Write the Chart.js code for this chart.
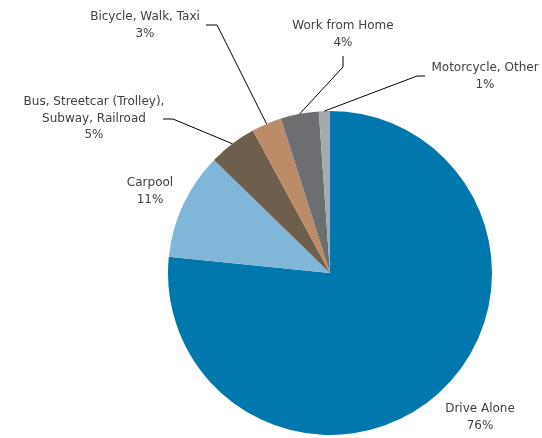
<!DOCTYPE html>
<html>
<head>
<meta charset="utf-8">
<script src="https://cdn.jsdelivr.net/npm/chart.js@4"></script>
<style>
  html, body { margin: 0; padding: 0; background: #fff; }
  #wrap { width: 542px; height: 438px; }
</style>
</head>
<body>
<div id="wrap"><canvas id="modeChart" width="542" height="438"></canvas></div>
<script>
// commute mode share (slice sizes, labels are the printed %)
const modes = ['Drive Alone', 'Carpool', 'Bus, Streetcar (Trolley), Subway, Railroad', 'Bicycle, Walk, Taxi', 'Work from Home', 'Motorcycle, Other'];
const shares = [76.6, 10.7, 4.8, 3.0, 3.8, 1.1];
const shareLabels = ['76%', '11%', '5%', '3%', '4%', '1%'];
const sliceColors = ['#0077ad', '#80b6d8', '#6e5e4c', '#bc8b67', '#6d6e71', '#a7a9ac'];

// where each label sits, and the knee of its leader line (null = no line)
const labelLayout = [
  { x: 480, y: 409, lines: ['Drive Alone'], leader: null },
  { x: 150, y: 183, lines: ['Carpool'], leader: null },
  { x: 94, y: 102, lines: ['Bus, Streetcar (Trolley),', 'Subway, Railroad'], leader: [[163, 119], [173, 119]] },
  { x: 145, y: 17, lines: ['Bicycle, Walk, Taxi'], leader: [[206, 25], [217, 25]] },
  { x: 343, y: 26, lines: ['Work from Home'], leader: [[343, 56], [343, 67]] },
  { x: 485, y: 68, lines: ['Motorcycle, Other'], leader: [[425, 76], [417, 76]] }
];

const outsideLabels = {
  id: 'outsideLabels',
  afterDatasetsDraw(chart) {
    const c = chart.ctx;
    const arcs = chart.getDatasetMeta(0).data;
    c.save();
    // leader lines
    c.strokeStyle = '#000';
    c.lineWidth = 1;
    arcs.forEach((arc, i) => {
      const lay = labelLayout[i];
      if (!lay.leader) return;
      const p = arc.getProps(['x', 'y', 'startAngle', 'endAngle', 'outerRadius'], true);
      const mid = (p.startAngle + p.endAngle) / 2;
      const ex = p.x + Math.cos(mid) * p.outerRadius;
      const ey = p.y + Math.sin(mid) * p.outerRadius;
      c.beginPath();
      c.moveTo(lay.leader[0][0], lay.leader[0][1]);
      c.lineTo(lay.leader[1][0], lay.leader[1][1]);
      c.lineTo(ex, ey);
      c.stroke();
    });
    // text
    c.fillStyle = '#404040';
    c.font = '12px "DejaVu Sans"';
    c.textAlign = 'center';
    c.textBaseline = 'middle';
    labelLayout.forEach((lay, i) => {
      const rows = lay.lines.concat([shareLabels[i]]);
      rows.forEach((t, k) => c.fillText(t, lay.x, lay.y + k * 16.5));
    });
    c.restore();
  }
};

new Chart(document.getElementById('modeChart'), {
  type: 'pie',
  data: {
    labels: modes,
    datasets: [{
      data: shares,
      backgroundColor: sliceColors,
      borderWidth: 0
    }]
  },
  options: {
    responsive: false,
    devicePixelRatio: 1,
    animation: false,
    layout: { padding: { top: 111, bottom: 3, left: 168, right: 50 } },
    plugins: {
      legend: { display: false },
      tooltip: { enabled: false }
    }
  },
  plugins: [outsideLabels]
});
</script>
</body>
</html>
